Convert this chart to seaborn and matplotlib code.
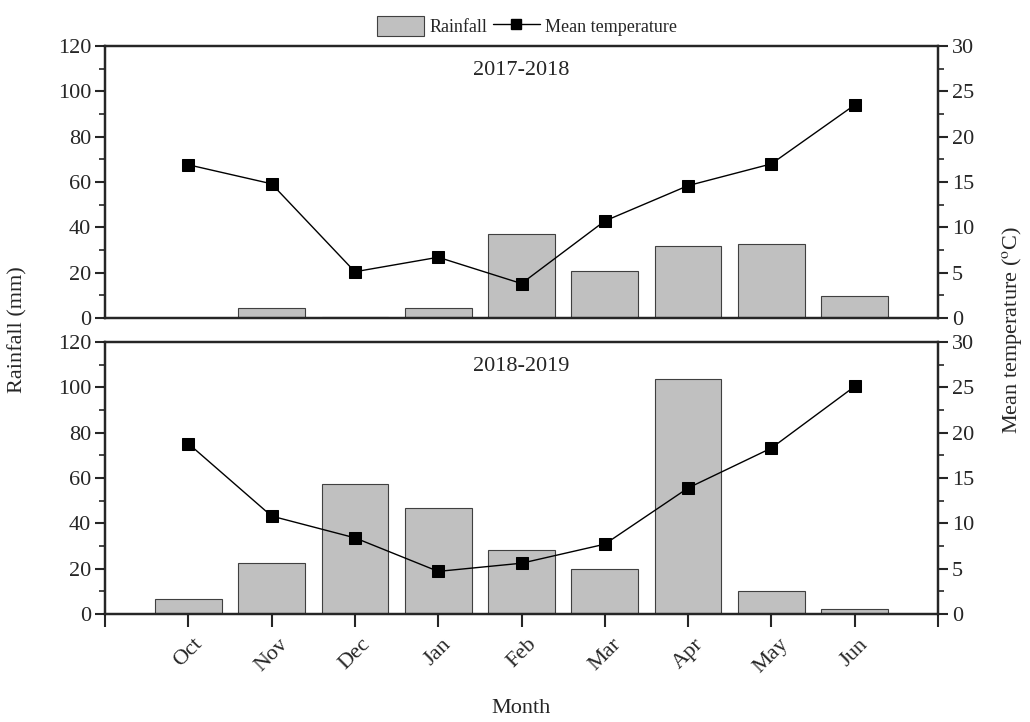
import numpy as np
import matplotlib
matplotlib.use('Agg')
import matplotlib.pyplot as plt
import seaborn as sb
from matplotlib.ticker import MultipleLocator
from matplotlib.patches import Patch
from matplotlib.lines import Line2D

sb.set_style('white')
plt.rcParams['font.family'] = ['Liberation Serif', 'DejaVu Serif']
plt.rcParams['mathtext.fontset'] = 'stix'

months = ['Oct', 'Nov', 'Dec', 'Jan', 'Feb', 'Mar', 'Apr', 'May', 'Jun']
seasons = ['2017-2018', '2018-2019']
rain_1718 = [0, 4.6, 0.4, 4.6, 37.0, 20.8, 31.8, 32.7, 9.8]
temp_1718 = [16.9, 14.8, 5.1, 6.7, 3.8, 10.7, 14.6, 17.0, 23.5]
rain_1819 = [6.5, 22.6, 57.3, 46.9, 28.1, 19.9, 103.8, 10.0, 2.1]
temp_1819 = [18.8, 10.8, 8.4, 4.7, 5.6, 7.7, 13.9, 18.3, 25.1]

fig = plt.figure(figsize=(10.3, 7.22), dpi=100)
ax1 = fig.add_axes([105/1030, 1-318/722, 833/1030, 272/722])
ax2 = fig.add_axes([105/1030, 1-614/722, 833/1030, 272/722])

pos = np.arange(len(months))
fs = 16

for ax, rain, temp, season in [(ax1, rain_1718, temp_1718, seasons[0]),
                               (ax2, rain_1819, temp_1819, seasons[1])]:
    sb.barplot(x=pos, y=rain, ax=ax, color='#c0c0c0', saturation=1, width=0.8,
               edgecolor='#404040', linewidth=0.8, native_scale=True)
    ax.set_xlim(-1, 9)
    ax.set_ylim(0, 120)
    ax.yaxis.set_major_locator(MultipleLocator(20))
    ax.yaxis.set_minor_locator(MultipleLocator(10))
    ax.tick_params(axis='y', which='major', direction='out', length=7, width=1.5,
                   labelsize=fs, left=True, pad=3)
    ax.tick_params(axis='y', which='minor', direction='out', length=4, width=1.2, left=True)
    for s in ax.spines.values():
        s.set_linewidth(1.6)
        s.set_color('black')
    ax.text(0.5, 0.91, season, transform=ax.transAxes, ha='center', va='center', fontsize=fs)

    tx = ax.twinx()
    sb.lineplot(x=pos, y=temp, ax=tx, color='black', marker='s', markersize=9,
                markeredgecolor='black', linewidth=1)
    tx.set_ylim(0, 30)
    tx.yaxis.set_major_locator(MultipleLocator(5))
    tx.yaxis.set_minor_locator(MultipleLocator(2.5))
    tx.tick_params(axis='y', which='major', direction='out', length=7, width=1.5,
                   labelsize=fs, right=True, pad=3)
    tx.tick_params(axis='y', which='minor', direction='out', length=4, width=1.2, right=True)
    for s in tx.spines.values():
        s.set_linewidth(1.6)
    tx.set_ylabel('')
    ax.set_ylabel('')

ax1.set_xticks([])
ax1.tick_params(axis='x', bottom=False, labelbottom=False)
ax2.set_xticks(np.arange(-1, 10))
ax2.set_xticklabels([''] + months + [''], rotation=45, ha='center')
ax2.tick_params(axis='x', direction='out', length=9, width=1.5, labelsize=fs, bottom=True, pad=6)
ax2.set_xlabel('Month', fontsize=fs, labelpad=16)

fig.text(18/1030, 1-330/722, 'Rainfall (mm)', rotation=90, ha='center', va='center', fontsize=fs)
fig.text(1012/1030, 1-330/722, r'Mean temperature ($^{\rm o}$C)', rotation=90,
         ha='center', va='center', fontsize=fs)

handles = [Patch(facecolor='#c0c0c0', edgecolor='#404040', linewidth=0.8, label='Rainfall'),
           Line2D([], [], color='black', marker='s', markersize=7, linewidth=1,
                  label='Mean temperature')]
fig.legend(handles=handles, loc='center', bbox_to_anchor=(527/1030, 1-26/722), ncol=2,
           frameon=False, fontsize=13, handlelength=2.6, handleheight=1.3,
           columnspacing=0.3, handletextpad=0.3, borderpad=0)

fig.savefig('out.png', dpi=100)
